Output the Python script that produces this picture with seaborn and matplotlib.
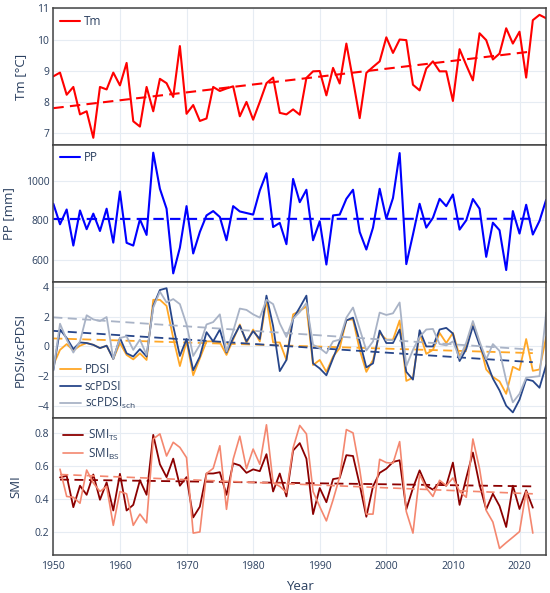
import matplotlib
matplotlib.use("Agg")
import matplotlib.pyplot as plt
import seaborn as sns

# years
years = list(range(1950, 2025))
smi_years = list(range(1951, 2023))
trend_years = [1950, 2022]
smi_trend_years = [1951, 2022]

# mean temperature [°C]
tm = [8.82, 8.94, 8.23, 8.48, 7.60, 7.70, 6.85, 8.48, 8.40, 8.94,
      8.53, 9.25, 7.38, 7.21, 8.48, 7.70, 8.74, 8.60, 8.16, 9.79,
      7.62, 7.90, 7.39, 7.47, 8.48, 8.35, 8.43, 8.50, 7.54, 8.00,
      7.43, 8.00, 8.60, 8.78, 7.65, 7.60, 7.76, 7.59, 8.77, 8.98,
      8.99, 8.21, 9.09, 8.59, 9.87, 8.70, 7.48, 8.93, 9.12, 9.30,
      10.07, 9.57, 10.00, 9.98, 8.55, 8.37, 9.07, 9.30, 8.98, 8.98,
      8.03, 9.69, 9.18, 8.69, 10.20, 9.98, 9.36, 9.55, 10.36, 9.87,
      10.25, 8.78, 10.62, 10.79, 10.68]

# precipitation [mm]
pp = [884, 780, 855, 672, 850, 755, 834, 746, 859, 687,
      946, 686, 672, 805, 726, 1143, 960, 859, 531, 661,
      872, 632, 741, 825, 847, 817, 699, 872, 845, 837,
      829, 951, 1039, 766, 787, 679, 1010, 892, 955, 699,
      795, 576, 825, 829, 909, 955, 741, 652, 763, 960,
      808, 913, 1141, 578, 728, 884, 763, 813, 909, 872,
      931, 753, 800, 908, 859, 615, 788, 750, 548, 847,
      733, 879, 728, 797, 904]

pdsi = [-1.25, -0.23, 0.16, -0.27, 0.05, 0.23, 0.11, -0.11, 0.05, -0.84,
        0.23, -0.57, -0.87, -0.46, -0.91, 3.14, 3.14, 2.73, 0.57, -1.32,
        0.34, -1.94, -0.80, 0.34, 0.34, 0.27, -0.57, 0.46, 1.48, 0.23,
        1.14, 0.34, 3.14, 0.27, 0.27, -0.91, 2.16, 2.39, 2.69, -1.25,
        -0.91, -1.71, -0.68, -0.11, 1.78, 1.82, -0.23, -1.71, -0.91, 0.91,
        0.46, 0.46, 1.75, -2.32, -2.10, 0.91, -0.50, -0.23, 0.91, 0.23,
        0.91, -0.64, 0.00, 1.59, 0.23, -1.55, -2.05, -2.35, -3.19, -1.37,
        -1.59, 0.50, -1.64, -1.55, 0.64]

scpdsi = [-1.60, 1.14, 0.57, -0.18, 0.27, 0.23, 0.11, -0.11, 0.05, -0.84,
          0.57, -0.46, -0.68, -0.18, -0.68, 2.73, 3.80, 3.92, 1.37, -0.64,
          0.50, -1.60, -0.68, 0.96, 0.34, 1.14, -0.41, 0.57, 1.41, 0.34,
          1.03, 0.50, 3.42, 1.37, -1.66, -0.91, 1.85, 2.62, 3.42, -1.14,
          -1.48, -1.94, -0.80, 0.34, 1.75, 1.94, 0.34, -1.41, -1.14, 1.07,
          0.23, 0.23, 1.14, -1.71, -2.23, 1.09, 0.00, 0.00, 1.14, 1.25,
          0.87, -0.98, -0.18, 1.37, 0.11, -0.98, -2.16, -2.96, -3.99, -4.44,
          -3.58, -2.21, -2.32, -2.78, -1.25]

scpdsi_sch = [-1.60, 1.53, 0.46, -0.41, 0.34, 2.10, 1.82, 1.71, 1.98, -0.84,
              0.57, 0.68, -0.23, 0.46, -0.57, 2.62, 3.69, 2.96, 3.19, 2.85,
              1.48, -0.64, 0.11, 1.48, 1.64, 2.16, -0.34, 1.03, 2.55, 2.46,
              2.16, 1.94, 3.14, 2.85, 1.55, 0.64, 1.87, 2.32, 2.92, 0.11,
              -0.11, -0.46, 0.34, 0.46, 1.94, 2.62, 1.18, -0.27, 0.34, 2.28,
              2.12, 2.23, 2.96, -1.32, -0.23, 0.64, 1.14, 1.18, 0.16, 0.07,
              0.34, -0.80, 0.27, 1.71, 0.34, -0.87, 0.16, -0.30, -2.28, -3.76,
              -3.19, -2.10, -2.05, -2.00, 2.28]

smi_ts = [0.530, 0.540, 0.350, 0.480, 0.425, 0.548, 0.395, 0.500, 0.330,
          0.552, 0.330, 0.364, 0.513, 0.425, 0.788, 0.610, 0.532, 0.644, 0.480,
          0.532, 0.288, 0.353, 0.554, 0.554, 0.562, 0.425, 0.616, 0.603, 0.558,
          0.579, 0.568, 0.671, 0.445, 0.554, 0.415, 0.693, 0.738, 0.644, 0.308,
          0.466, 0.380, 0.520, 0.527, 0.665, 0.660, 0.486, 0.292, 0.476, 0.558,
          0.583, 0.624, 0.634, 0.337, 0.466, 0.573, 0.480, 0.456, 0.500, 0.480,
          0.620, 0.364, 0.527, 0.681, 0.486, 0.337, 0.431, 0.357, 0.230, 0.480,
          0.339, 0.452, 0.347]

smi_bs = [0.580, 0.415, 0.410, 0.374, 0.575, 0.497, 0.445, 0.476, 0.240,
          0.445, 0.431, 0.240, 0.308, 0.255, 0.763, 0.794, 0.660, 0.743, 0.712,
          0.650, 0.193, 0.200, 0.554, 0.585, 0.722, 0.337, 0.640, 0.780, 0.583,
          0.702, 0.610, 0.849, 0.497, 0.476, 0.439, 0.709, 0.845, 0.794, 0.445,
          0.353, 0.267, 0.394, 0.534, 0.820, 0.800, 0.579, 0.308, 0.308, 0.640,
          0.620, 0.616, 0.747, 0.323, 0.193, 0.548, 0.466, 0.415, 0.513, 0.480,
          0.527, 0.445, 0.410, 0.763, 0.583, 0.330, 0.260, 0.100, 0.135, 0.168,
          0.202, 0.445, 0.193]

# linear trends (start, end)
tm_trend = [7.80, 9.62]
pp_trend = [807, 808]
pdsi_trend = [0.54, -0.45]
scpdsi_trend = [1.05, -1.06]
sch_trend = [1.96, -0.22]
smi_ts_trend = [0.517, 0.476]
smi_bs_trend = [0.548, 0.431]

text_color = "#2a3f5f"
axis_color = "#444444"
grid_color = "#e6ecf3"
dash = (0, (5, 3))

sns.set_theme(style="white")
plt.rcParams["font.family"] = ["Open Sans", "DejaVu Sans"]
plt.rcParams["mathtext.default"] = "regular"


def draw(ax, x, y, color, label, tx, ty, lw=1.5):
    sns.lineplot(x=x, y=y, color=color, label=label, linewidth=lw, ax=ax)
    sns.lineplot(x=tx, y=ty, color=color, linewidth=lw, linestyle=dash, ax=ax)


fig, axes = plt.subplots(4, 1, figsize=(5.5, 5.93), dpi=100, sharex=True)
fig.subplots_adjust(left=0.097, right=0.993, top=0.986, bottom=0.064, hspace=0)
ax1, ax2, ax3, ax4 = axes

draw(ax1, years, tm, "#ff0000", "Tm", trend_years, tm_trend)
draw(ax2, years, pp, "#0000ff", "PP", trend_years, pp_trend)
draw(ax3, years, pdsi, "#ffa726", "PDSI", trend_years, pdsi_trend, lw=1.3)
draw(ax3, years, scpdsi, "#27468a", "scPDSI", trend_years, scpdsi_trend, lw=1.3)
draw(ax3, years, scpdsi_sch, "#a9b3c6", "scPDSI$_{sch}$", trend_years, sch_trend, lw=1.3)
draw(ax4, smi_years, smi_ts, "#8b0000", "SMI$_{TS}$", smi_trend_years, smi_ts_trend, lw=1.3)
draw(ax4, smi_years, smi_bs, "#f4876f", "SMI$_{BS}$", smi_trend_years, smi_bs_trend, lw=1.2)

ax1.set_ylim(6.62, 11)
ax1.set_yticks([7, 8, 9, 10, 11])
ax2.set_ylim(489, 1182)
ax2.set_yticks([600, 800, 1000])
ax3.set_ylim(-4.84, 4.36)
ax3.set_yticks([-4, -2, 0, 2, 4])
ax4.set_ylim(0.06, 0.888)
ax4.set_yticks([0.2, 0.4, 0.6, 0.8])

ylabels = ["Tm [°C]", "PP [mm]", "PDSI/scPDSI", "SMI"]
label_x = [-0.054, -0.078, -0.054, -0.062]
for ax, lab, lx in zip(axes, ylabels, label_x):
    ax.set_xlim(1950, 2024)
    ax.set_xticks(range(1950, 2021, 10))
    ax.grid(True, color=grid_color, linewidth=0.8)
    ax.set_axisbelow(True)
    for sp in ax.spines.values():
        sp.set_color(axis_color)
        sp.set_linewidth(1.1)
    ax.tick_params(axis="x", direction="in", length=4, width=1, color=axis_color,
                   labelsize=7.5, labelcolor=text_color, pad=4)
    ax.tick_params(axis="y", length=0, labelsize=7.5, labelcolor=text_color, pad=3)
    ax.set_ylabel(lab, fontsize=9.5, color=text_color)
    ax.yaxis.set_label_coords(lx, 0.5)
    ax.set_xlabel("")

leg_kw = dict(frameon=False, fontsize=8.5, handlelength=1.7, handletextpad=0.35,
              labelcolor=text_color)
ax1.legend(loc="upper left", borderaxespad=0.15, **leg_kw)
ax2.legend(loc="upper left", borderaxespad=0.15, **leg_kw)
ax3.legend(loc="lower left", borderaxespad=0.2, labelspacing=0.3, **leg_kw)
ax4.legend(loc="upper left", borderaxespad=0.45, labelspacing=0.25, **leg_kw)

ax4.set_xlabel("Year", fontsize=9.5, color=text_color, labelpad=6)

fig.savefig("out.png", dpi=100)
